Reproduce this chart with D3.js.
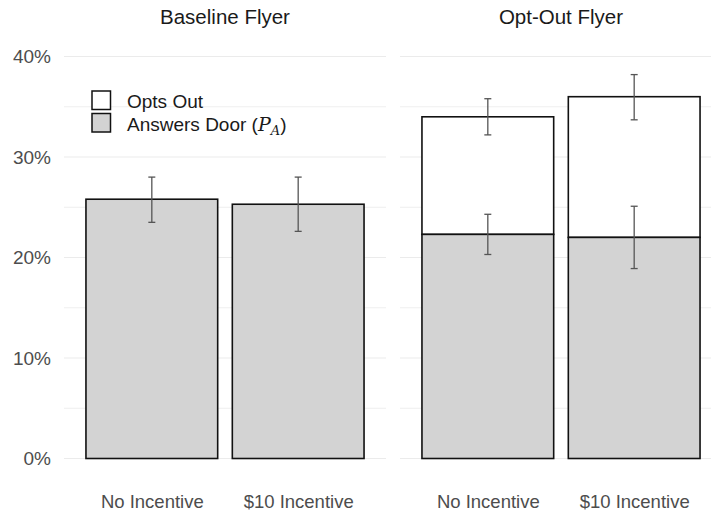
<!DOCTYPE html>
<html>
<head>
<meta charset="utf-8">
<script src="https://cdn.jsdelivr.net/npm/d3@7"></script>
<style>
  body { margin: 0; background: white; }
  text { font-family: "Liberation Sans", Arial, sans-serif; }
</style>
</head>
<body>
<div id="chart"></div>
<script>
var panels = ['Baseline Flyer', 'Opt-Out Flyer'];
var incentives = ['No Incentive', '$10 Incentive'];

// answers door share (%) per panel, per incentive
var answersDoor = [[25.8, 25.3], [22.3, 22.0]];
// opts out share (%) stacked on top, only for the opt-out flyer
var optsOut = [[0, 0], [11.7, 14.0]];
// error bars for answers door
var answersLo = [[23.5, 22.6], [20.3, 18.9]];
var answersHi = [[28.0, 28.0], [24.3, 25.1]];
// error bars for the total (answers + opts out)
var totalLo = [null, [32.2, 33.7]];
var totalHi = [null, [35.8, 38.2]];

var yTicks = [0, 10, 20, 30, 40];
var yGrid = [0, 5, 10, 15, 20, 25, 30, 35, 40];

var width = 711, height = 512;
var panelRanges = [[64, 386], [400, 722]];

var svg = d3.select('#chart').append('svg')
    .attr('width', width)
    .attr('height', height);

var yScale = d3.scaleLinear()
    .domain([0, 40])
    .range([458.5, 56.5]);

panels.forEach(function(p, i) {
  var xScale = d3.scalePoint()
      .domain(incentives)
      .range(panelRanges[i])
      .padding(0.6);
  var bw = xScale.step() * 0.9;
  var g = svg.append('g');

  g.selectAll('.grid')
    .data(yGrid)
    .enter().append('line')
    .attr('x1', panelRanges[i][0])
    .attr('x2', panelRanges[i][1])
    .attr('y1', function(d) { return yScale(d); })
    .attr('y2', function(d) { return yScale(d); })
    .style('stroke', '#ebebeb')
    .style('stroke-width', function(d) { return d % 10 == 0 ? 1.1 : 0.8; });

  g.append('text')
    .attr('x', (panelRanges[i][0] + panelRanges[i][1]) / 2)
    .attr('y', 24)
    .attr('text-anchor', 'middle')
    .style('font-size', '20.5px')
    .style('fill', '#1a1a1a')
    .text(p);

  // opts out (white, stacked on top)
  g.selectAll('.opt')
    .data(incentives.filter(function(c, j) { return optsOut[i][j] > 0; }))
    .enter().append('rect')
    .attr('x', function(d) { return xScale(d) - bw / 2; })
    .attr('width', bw)
    .attr('y', function(d) {
      var j = incentives.indexOf(d);
      return yScale(answersDoor[i][j] + optsOut[i][j]);
    })
    .attr('height', function(d) {
      var j = incentives.indexOf(d);
      return yScale(answersDoor[i][j]) - yScale(answersDoor[i][j] + optsOut[i][j]);
    })
    .style('fill', 'white')
    .style('stroke', '#111')
    .style('stroke-width', 1.6);

  g.selectAll('.ans')
    .data(incentives)
    .enter().append('rect')
    .attr('x', function(d) { return xScale(d) - bw / 2; })
    .attr('width', bw)
    .attr('y', function(d, j) { return yScale(answersDoor[i][j]); })
    .attr('height', function(d, j) { return yScale(0) - yScale(answersDoor[i][j]); })
    .style('fill', '#d3d3d3')
    .style('stroke', '#111')
    .style('stroke-width', 1.6);

  var errs = incentives.map(function(c, j) {
    return { c: c, lo: answersLo[i][j], hi: answersHi[i][j] };
  });
  if (totalLo[i]) {
    incentives.forEach(function(c, j) {
      errs.push({ c: c, lo: totalLo[i][j], hi: totalHi[i][j] });
    });
  }
  var cap = 3.5;
  var eb = g.selectAll('.err')
    .data(errs)
    .enter().append('g')
    .style('stroke', '#555')
    .style('stroke-width', 1.3);
  eb.append('line')
    .attr('x1', function(d) { return xScale(d.c); })
    .attr('x2', function(d) { return xScale(d.c); })
    .attr('y1', function(d) { return yScale(d.lo); })
    .attr('y2', function(d) { return yScale(d.hi); });
  eb.append('line')
    .attr('x1', function(d) { return xScale(d.c) - cap; })
    .attr('x2', function(d) { return xScale(d.c) + cap; })
    .attr('y1', function(d) { return yScale(d.lo); })
    .attr('y2', function(d) { return yScale(d.lo); });
  eb.append('line')
    .attr('x1', function(d) { return xScale(d.c) - cap; })
    .attr('x2', function(d) { return xScale(d.c) + cap; })
    .attr('y1', function(d) { return yScale(d.hi); })
    .attr('y2', function(d) { return yScale(d.hi); });

  var xAxis = g.append('g')
    .attr('transform', 'translate(0,' + 508 + ')')
    .call(d3.axisBottom(xScale).tickSize(0).tickPadding(0));
  xAxis.select('.domain').remove();
  xAxis.selectAll('text')
    .attr('dy', '0')
    .style('font-size', '18.5px')
    .style('font-family', '"Liberation Sans", Arial, sans-serif')
    .style('fill', '#4d4d4d');
});

var yAxis = svg.append('g')
  .attr('transform', 'translate(51,0)')
  .call(d3.axisLeft(yScale).tickValues(yTicks).tickSize(0).tickPadding(0)
    .tickFormat(function(d) { return d + '%'; }));
yAxis.select('.domain').remove();
yAxis.selectAll('text')
  .style('font-size', '19px')
  .style('font-family', '"Liberation Sans", Arial, sans-serif')
  .style('fill', '#4d4d4d');

// legend
var legendItems = [
  { fill: 'white', label: 'Opts Out' },
  { fill: '#d3d3d3', label: 'Answers Door' }
];
var legend = svg.append('g');
legendItems.forEach(function(d, k) {
  var y0 = 91 + k * 22.5;
  legend.append('rect')
    .attr('x', 92).attr('y', y0)
    .attr('width', 18.5).attr('height', 18.5)
    .style('fill', d.fill)
    .style('stroke', '#111')
    .style('stroke-width', 1.5);
  var t = legend.append('text')
    .attr('x', 127)
    .attr('y', y0 + 17)
    .style('font-size', '19px')
    .style('fill', '#1a1a1a')
    .text(d.label);
  if (k == 1) {
    t.append('tspan').text(' (');
    t.append('tspan').style('font-family', '"DejaVu Serif", serif').style('font-style', 'italic').text('P');
    t.append('tspan').style('font-family', '"DejaVu Serif", serif').style('font-style', 'italic')
      .style('font-size', '13px').attr('dy', 4).text('A');
    t.append('tspan').attr('dy', -4).text(')');
  }
});
</script>
</body>
</html>
